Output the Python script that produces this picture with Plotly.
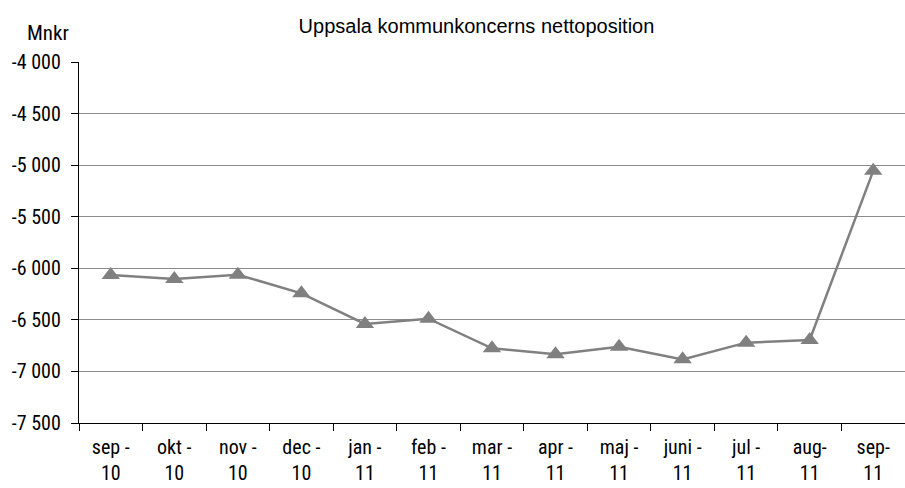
import plotly.graph_objects as go

months = ["sep -<br>10", "okt -<br>10", "nov -<br>10", "dec -<br>10", "jan -<br>11", "feb -<br>11",
          "mar -<br>11", "apr -<br>11", "maj -<br>11", "juni -<br>11", "jul -<br>11", "aug-<br>11", "sep-<br>11"]
values = [-6065, -6104, -6062, -6243, -6540, -6489, -6776, -6834, -6760, -6883, -6721, -6695, -5055]
ytick_vals = [-4000, -4500, -5000, -5500, -6000, -6500, -7000, -7500]
ytick_text = ["-4 000", "-4 500", "-5 000", "-5 500", "-6 000", "-6 500", "-7 000", "-7 500"]
grid_vals = [-4500, -5000, -5500, -6000, -6500, -7000]

FONT = "Roboto Condensed, Liberation Sans, Arial, sans-serif"
TFONT = "Liberation Sans, Arial, sans-serif"

fig = go.Figure()
fig.add_trace(go.Scatter(
    x=months, y=values, mode="lines+markers",
    line=dict(color="#808080", width=2.5),
    marker=dict(symbol="triangle-up", size=16, color="#808080"),
    showlegend=False, cliponaxis=False,
))

fig.update_layout(
    width=905, height=488,
    margin=dict(l=79, r=0, t=62, b=65, autoexpand=False),
    paper_bgcolor="white", plot_bgcolor="white",
    font=dict(family=FONT, size=20, color="black"),
    title=dict(text="Uppsala kommunkoncerns nettoposition", x=0.5265, xanchor="center",
               y=1 - 26 / 488, yanchor="middle", font=dict(family=TFONT, size=20, color="black")),
    annotations=[dict(text="Mnkr", xref="paper", yref="paper", x=-0.0375, y=1.08,
                      xanchor="center", yanchor="middle", showarrow=False,
                      font=dict(family=FONT, size=21, color="black"))],
)
fig.update_xaxes(
    type="category", range=[-0.5, 12.5], automargin=False,
    showline=True, linecolor="black", linewidth=1.3,
    ticks="outside", tickson="boundaries", ticklen=7, tickcolor="black",
    showgrid=False, zeroline=False, tickangle=0, ticklabelstandoff=6,
    tickfont=dict(family=FONT, size=20, color="black"),
)
fig.update_yaxes(
    range=[-7500, -4000], tickvals=ytick_vals, ticktext=ytick_text, automargin=False,
    showline=True, linecolor="black", linewidth=1.3,
    ticks="outside", ticklen=7, tickcolor="black", ticklabelstandoff=6,
    showgrid=False, zeroline=False,
    tickfont=dict(family=FONT, size=20, color="black"),
    minor=dict(tickvals=grid_vals, showgrid=True, gridcolor="#8c8c8c", gridwidth=1, ticks=""),
)

fig.write_html("out.html", config={"displayModeBar": False},
               post_script="document.body.style.margin='0';document.body.style.overflow='hidden';")
